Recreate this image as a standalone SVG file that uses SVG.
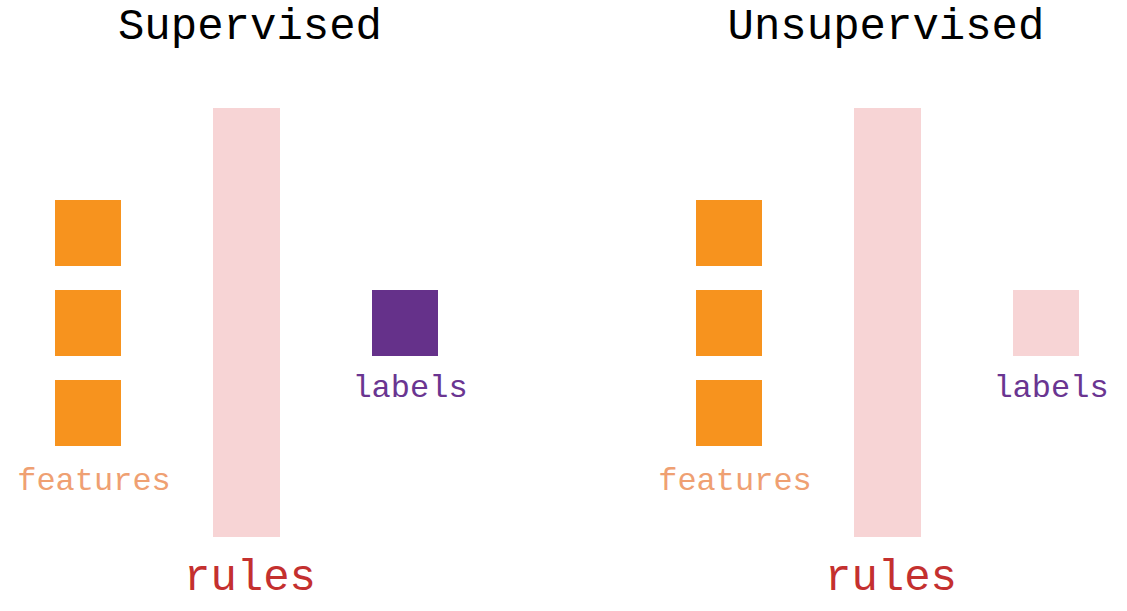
<svg xmlns="http://www.w3.org/2000/svg" width="1127" height="611" viewBox="0 0 1127 611">
<style>
.t{font-family:"Liberation Mono","Courier New",monospace;text-anchor:middle}
.title{font-size:44px;fill:#000}
.feat{font-size:32px;fill:#EFA072}
.lab{font-size:32px;fill:#6A3591}
.rule{font-size:44px;fill:#C4302F}
.sq{fill:#F7931E}
.bar{fill:#F7D4D5}
</style>
<rect width="1127" height="611" fill="#fff"/>
<g id="supervised">
<text class="t title" x="250" y="39">Supervised</text>
<g id="s-features">
<rect class="sq" x="55" y="200" width="66" height="66"/>
<rect class="sq" x="55" y="290" width="66" height="66"/>
<rect class="sq" x="55" y="380" width="66" height="66"/>
<text class="t feat" x="94" y="490">features</text>
</g>
<g id="s-rules">
<rect class="bar" x="213" y="108" width="67" height="429"/>
<text class="t rule" x="250" y="590">rules</text>
</g>
<g id="s-labels">
<rect x="372" y="290" width="66" height="66" fill="#65318A"/>
<text class="t lab" x="410" y="397">labels</text>
</g>
</g>
<g id="unsupervised">
<text class="t title" x="886" y="39">Unsupervised</text>
<g id="u-features">
<rect class="sq" x="696" y="200" width="66" height="66"/>
<rect class="sq" x="696" y="290" width="66" height="66"/>
<rect class="sq" x="696" y="380" width="66" height="66"/>
<text class="t feat" x="735" y="490">features</text>
</g>
<g id="u-rules">
<rect class="bar" x="854" y="108" width="67" height="429"/>
<text class="t rule" x="891" y="590">rules</text>
</g>
<g id="u-labels">
<rect class="bar" x="1013" y="290" width="66" height="66"/>
<text class="t lab" x="1051" y="397">labels</text>
</g>
</g>
<g id="connectors"/>
</svg>
